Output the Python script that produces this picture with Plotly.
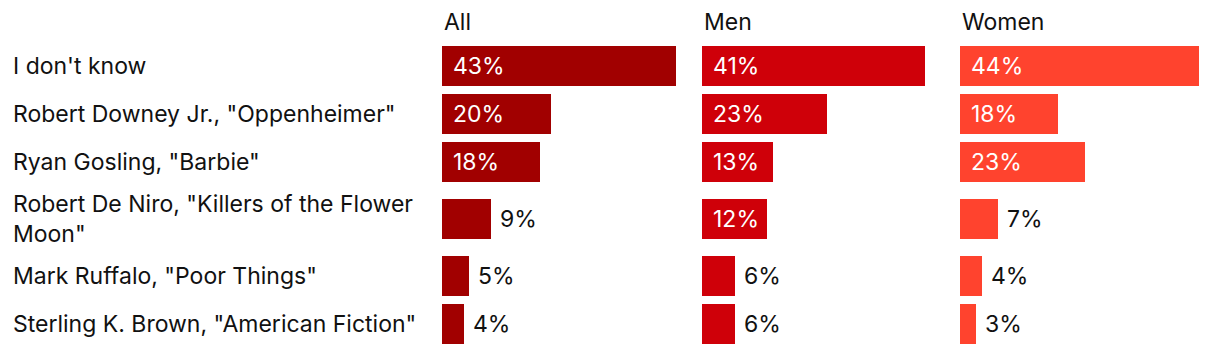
import plotly.graph_objects as go

categories = ["I don't know", 'Robert Downey Jr., "Oppenheimer"', 'Ryan Gosling, "Barbie"',
              'Robert De Niro, "Killers of the Flower<br>Moon"', 'Mark Ruffalo, "Poor Things"',
              'Sterling K. Brown, "American Fiction"']
all_vals = [43, 20, 18, 9, 5, 4]
men_vals = [41, 23, 13, 12, 6, 6]
women_vals = [44, 18, 23, 7, 4, 3]
panel_titles = ["All", "Men", "Women"]
colors = ["#a10000", "#cf0009", "#ff432e"]

FONT = "Inter"
FS = 23
W, H = 1220, 354
# row layout derived from number of label lines
centers = []
pos = 66
prev = None
for c in categories:
    slot = 48 + 18 * (c.count("<br>"))
    if prev is not None:
        pos += (prev + slot) / 2
    centers.append(pos)
    prev = slot

domains = [(442, 682), (702, 942), (960, 1200)]
xmax = 44.1

fig = go.Figure()
series = [all_vals, men_vals, women_vals]
annotations = []
for i, (vals, col, title, dom) in enumerate(zip(series, colors, panel_titles, domains)):
    xa = "x" if i == 0 else f"x{i+1}"
    fig.add_trace(go.Bar(x=vals, y=centers, orientation="h", width=40,
                         marker=dict(color=col, line=dict(width=0)),
                         xaxis=xa, yaxis="y", hoverinfo="skip", showlegend=False))
    key = "xaxis" if i == 0 else f"xaxis{i+1}"
    fig.layout[key] = dict(domain=[dom[0] / W, dom[1] / W], range=[0, xmax], visible=False,
                           fixedrange=True)
    annotations.append(dict(text=title, xref="paper", yref="paper", x=(dom[0]) / W, y=1 - 22 / H,
                            xanchor="left", yanchor="middle", showarrow=False,
                            font=dict(family=FONT, size=FS, color="#111")))
    for v, yc in zip(vals, centers):
        if v >= 10:
            annotations.append(dict(text=f"{v}%", x=0, y=yc, xref=xa, yref="y", xanchor="left",
                                    yanchor="middle", xshift=9, showarrow=False,
                                    font=dict(family=FONT, size=FS, color="white")))
        else:
            annotations.append(dict(text=f"{v}%", x=v, y=yc, xref=xa, yref="y", xanchor="left",
                                    yanchor="middle", xshift=7, showarrow=False,
                                    font=dict(family=FONT, size=FS, color="#111")))

for c, yc in zip(categories, centers):
    annotations.append(dict(text=c, x=11 / W, y=yc, xref="paper", yref="y", xanchor="left",
                            yanchor="middle", align="left", showarrow=False,
                            font=dict(family=FONT, size=FS, color="#111")))

fig.update_layout(
    width=W, height=H, margin=dict(l=0, r=0, t=0, b=0),
    paper_bgcolor="white", plot_bgcolor="white",
    yaxis=dict(range=[H, 0], domain=[0, 1], visible=False, fixedrange=True),
    annotations=annotations, bargap=0,
)
fig.write_html("out.html")
